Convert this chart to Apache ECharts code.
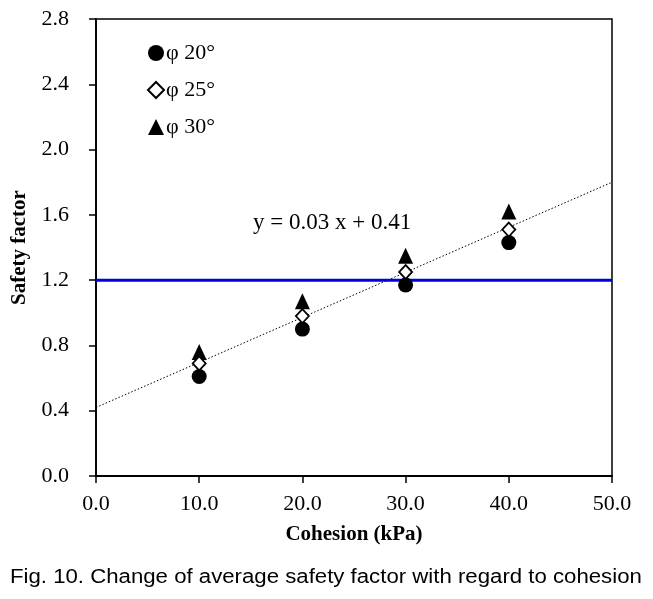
<!DOCTYPE html>
<html><head><meta charset="utf-8">
<script src="https://cdn.jsdelivr.net/npm/echarts@6/dist/echarts.min.js"></script>
<style>html,body{margin:0;padding:0;background:#fff}#c{width:653px;height:599px}</style>
</head><body><div id="c"></div>
<script>
const cohesion = [10, 20, 30, 40];
const phi20 = [0.61, 0.90, 1.17, 1.43];
const phi25 = [0.69, 0.98, 1.25, 1.51];
const phi30 = [0.76, 1.07, 1.35, 1.62];
const trendX = [0, 50];
const trendY = [0.42, 1.80];
const criterion = 1.2;
const seriesNames = ['φ 20°', 'φ 25°', 'φ 30°'];

const serif = 'Liberation Serif';
const chart = echarts.init(document.getElementById('c'), null, {renderer:'canvas'});
const pairs = a => cohesion.map((x,i)=>[x,a[i]]);
chart.setOption({
  animation:false,
  backgroundColor:'#fff',
  grid:{left:96,right:41,top:19,bottom:123,containLabel:false,outerBoundsMode:'none',
    show:true,borderColor:'#000',borderWidth:1.5,backgroundColor:'transparent'},
  legend:{orient:'vertical',left:142,top:37,itemWidth:16,itemHeight:16,itemGap:15,
    textStyle:{fontFamily:serif,fontSize:22,color:'#000',padding:[0,0,0,-3]},
    data:seriesNames},
  xAxis:{type:'value',min:0,max:50,interval:10,
    axisLine:{show:true,lineStyle:{color:'#000',width:1.8}},
    axisTick:{show:true,inside:false,length:7,lineStyle:{color:'#000',width:1.5}},
    splitLine:{show:false},
    axisLabel:{fontFamily:serif,fontSize:22,color:'#000',margin:17,formatter:v=>v.toFixed(1)},
    name:'Cohesion (kPa)',nameLocation:'middle',nameGap:48,
    nameTextStyle:{fontFamily:serif,fontSize:21,fontWeight:'bold',color:'#000'}},
  yAxis:{type:'value',min:0,max:2.8,interval:0.4,
    axisLine:{show:true,lineStyle:{color:'#000',width:1.8}},
    axisTick:{show:true,inside:false,length:7,lineStyle:{color:'#000',width:1.5}},
    splitLine:{show:false},
    axisLabel:{fontFamily:serif,fontSize:22,color:'#000',margin:27,formatter:v=>v.toFixed(1)},
    name:'Safety factor',nameLocation:'middle',nameGap:66,
    nameTextStyle:{fontFamily:serif,fontSize:21,fontWeight:'bold',color:'#000'}},
  series:[
    {type:'line',data:trendX.map((x,i)=>[x,trendY[i]]),symbol:'none',silent:true,
     lineStyle:{color:'#000',width:1,type:[1.5,2]},z:1},
    {type:'line',data:[[0,criterion],[50,criterion]],symbol:'none',silent:true,
     lineStyle:{color:'#0000e0',width:3},z:2},
    {name:seriesNames[0],type:'scatter',data:pairs(phi20),symbol:'circle',symbolSize:15,
     itemStyle:{color:'#000',opacity:1},z:3},
    {name:seriesNames[1],type:'scatter',data:pairs(phi25),symbol:'diamond',symbolSize:[13,14],
     itemStyle:{color:'#fff',borderColor:'#000',borderWidth:1.8,opacity:1},z:4},
    {name:seriesNames[2],type:'scatter',data:pairs(phi30),symbol:'triangle',symbolSize:[15,16],
     itemStyle:{color:'#000',opacity:1},z:3}
  ],
  graphic:[
    {type:'text',left:253,top:211,style:{text:'y = 0.03 x + 0.41',fontFamily:serif,fontSize:23,fill:'#000'}},
    {type:'text',x:10,y:567,scaleX:1.11,style:{text:'Fig. 10. Change of average safety factor with regard to cohesion',fontFamily:'Liberation Sans',fontSize:20,fill:'#000'}}
  ]
});
</script></body></html>
